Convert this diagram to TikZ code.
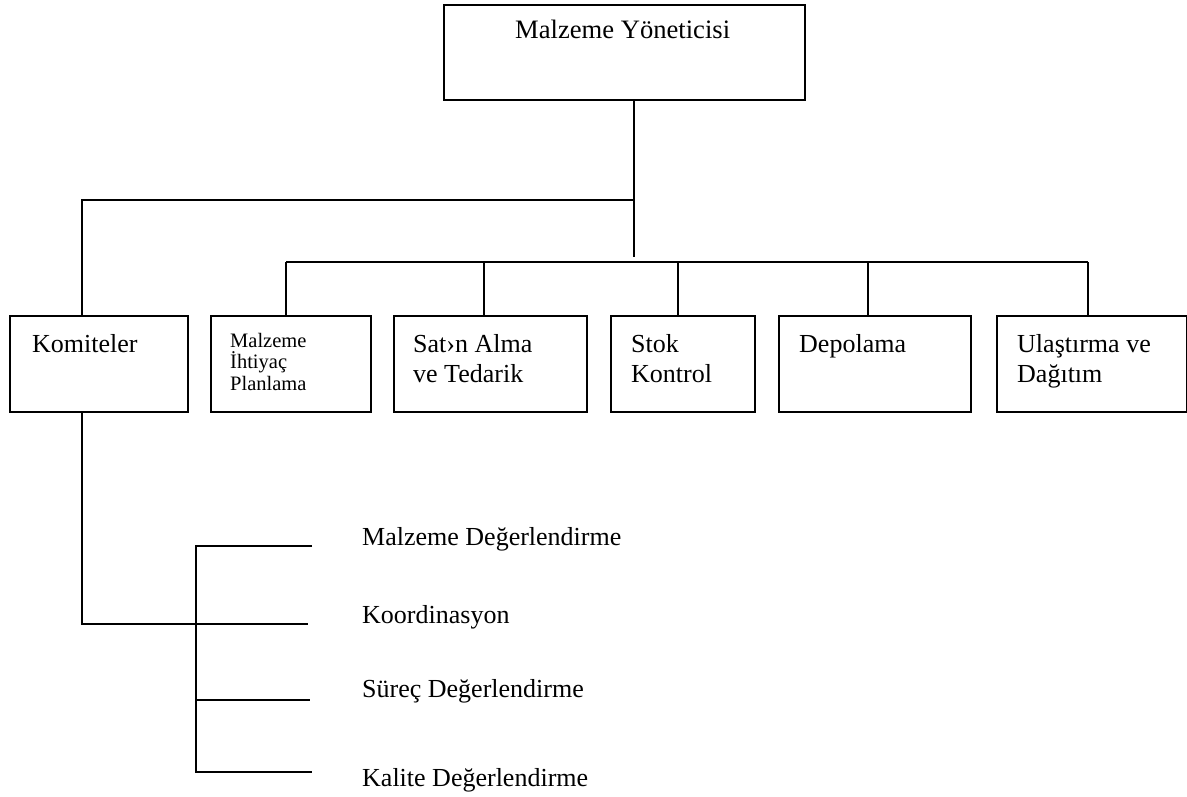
\documentclass[tikz,border=0pt]{standalone}
\usepackage{fontspec}
\setmainfont{Liberation Serif}
\begin{document}
\begin{tikzpicture}[x=1pt,y=-1pt,
  box/.style={draw, line width=1.6pt, inner sep=0pt, anchor=north west},
  lnk/.style={line width=1.6pt},
  lbl/.style={inner sep=0pt, anchor=base west, font=\fontsize{26}{30}\selectfont},
  slbl/.style={inner sep=0pt, anchor=base west, font=\fontsize{20.5}{22}\selectfont}]
\useasboundingbox (0,0) rectangle (1187,797);

% top manager box
\node[box, minimum width=361pt, minimum height=95pt] (top) at (443,4) {};
\node[lbl, font=\fontsize{26.6}{30}\selectfont] (topT) at (515,39) {Malzeme Yöneticisi};

% department boxes
\node[box, minimum width=178pt, minimum height=96pt] (kom) at (9,315) {};
\node[box, minimum width=160pt, minimum height=96pt] (mip) at (210,315) {};
\node[box, minimum width=193pt, minimum height=96pt] (sat) at (393,315) {};
\node[box, minimum width=144pt, minimum height=96pt] (stk) at (610,315) {};
\node[box, minimum width=192pt, minimum height=96pt] (dep) at (778,315) {};
\node[box, minimum width=190pt, minimum height=96pt] (ula) at (996,315) {};

\node[lbl] (komT) at (32,352) {Komiteler};
\node[slbl] (mipA) at (230,347) {Malzeme};
\node[slbl] (mipB) at (230,368.5) {İhtiyaç};
\node[slbl] (mipC) at (230,390) {Planlama};
\node[lbl] (satA) at (413,352) {Sat›n Alma};
\node[lbl] (satB) at (413,382) {ve Tedarik};
\node[lbl] (stkA) at (631,352) {Stok};
\node[lbl] (stkB) at (631,382) {Kontrol};
\node[lbl] (depT) at (799,352) {Depolama};
\node[lbl] (ulaA) at (1017,352) {Ulaştırma ve};
\node[lbl] (ulaB) at (1017,382) {Dağıtım};

% upper bus and lower bus
\coordinate (hubU) at (634,200);
\coordinate (stemEnd) at (634,257);
\coordinate (busL) at (286,262);
\coordinate (busR) at (1088,262);
\coordinate (cKom) at (82,200);
\coordinate (cMip) at (286,262);
\coordinate (cSat) at (484,262);
\coordinate (cStk) at (678,262);
\coordinate (cDep) at (868,262);
\coordinate (cUla) at (1088,262);

\draw[lnk] (top.south -| hubU) -- (stemEnd);
\draw[lnk] (hubU) -- (cKom) -- (cKom |- kom.north);
\draw[lnk] (busL) -- (busR);
\foreach \c/\b in {cMip/mip, cSat/sat, cStk/stk, cDep/dep, cUla/ula}
  \draw[lnk] (\c) -- (\c |- \b.north);

% committees branch
\coordinate (kDown) at (82,624);
\coordinate (brTop) at (196,546);
\coordinate (brBot) at (196,772);
\coordinate (e1) at (312,546);
\coordinate (e2) at (308,624);
\coordinate (e3) at (310,700);
\coordinate (e4) at (312,772);
\coordinate (b3) at (196,700);

\draw[lnk] (cKom |- kom.south) -- (kDown) -- (e2);
\draw[lnk] (e1) -- (brTop) -- (brBot) -- (e4);
\draw[lnk] (b3) -- (e3);

\node[lbl] (c1) at (362,545) {Malzeme Değerlendirme};
\node[lbl] (c2) at (362,623) {Koordinasyon};
\node[lbl] (c3) at (362,697) {Süreç Değerlendirme};
\node[lbl] (c4) at (362,786) {Kalite Değerlendirme};
\end{tikzpicture}
\end{document}
